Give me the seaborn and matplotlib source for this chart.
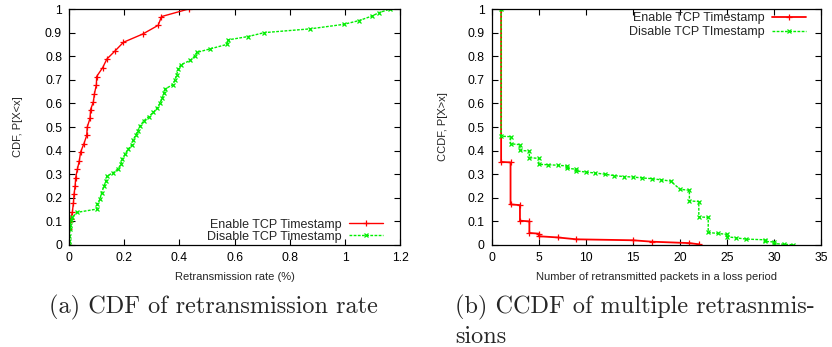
import matplotlib
matplotlib.use("Agg")
import matplotlib.pyplot as plt
import seaborn as sns
import pandas as pd

# ---- data (a) CDF of retransmission rate ----
cdf_en_x = [0, 0, 0.001, 0.006, 0.012, 0.016, 0.018, 0.022, 0.024, 0.03, 0.037, 0.042,
            0.054, 0.064, 0.066, 0.076, 0.078, 0.088, 0.092, 0.099, 0.1, 0.122, 0.137,
            0.168, 0.197, 0.267, 0.323, 0.335, 0.433]
cdf_en_y = [0, 0.068, 0.096, 0.11, 0.14, 0.18, 0.215, 0.25, 0.285, 0.32, 0.356, 0.394,
            0.43, 0.464, 0.5, 0.537, 0.574, 0.606, 0.641, 0.679, 0.714, 0.752, 0.788,
            0.824, 0.859, 0.894, 0.931, 0.968, 1.0]
cdf_dis_x = [0, 0, 0.001, 0.004, 0.005, 0.007, 0.012, 0.028, 0.1, 0.103, 0.112, 0.118,
             0.127, 0.134, 0.137, 0.161, 0.179, 0.187, 0.193, 0.203, 0.213, 0.227, 0.233,
             0.242, 0.249, 0.257, 0.27, 0.288, 0.306, 0.32, 0.33, 0.338, 0.344, 0.348,
             0.375, 0.384, 0.39, 0.396, 0.405, 0.439, 0.455, 0.463, 0.511, 0.572, 0.575,
             0.647, 0.708, 0.874, 0.995, 1.051, 1.097, 1.124, 1.164]
cdf_dis_y = [0, 0.018, 0.04, 0.068, 0.085, 0.105, 0.117, 0.138, 0.152, 0.173, 0.194, 0.222,
             0.25, 0.27, 0.292, 0.307, 0.324, 0.342, 0.363, 0.384, 0.405, 0.423, 0.447,
             0.466, 0.485, 0.504, 0.525, 0.543, 0.563, 0.581, 0.602, 0.623, 0.644, 0.661,
             0.679, 0.7, 0.722, 0.745, 0.764, 0.782, 0.8, 0.816, 0.831, 0.85, 0.869,
             0.883, 0.9, 0.916, 0.935, 0.951, 0.97, 0.985, 1.0]

# ---- data (b) CCDF of multiple retransmissions ----
ccdf_en_x = [1, 1, 2, 2, 3, 3, 4, 4, 5, 5, 7, 9, 15, 17, 21, 22]
ccdf_en_y = [1.0, 0.352, 0.35, 0.172, 0.169, 0.103, 0.1, 0.051, 0.048, 0.037, 0.032,
             0.024, 0.02, 0.014, 0.008, 0.003]
ccdf_dis_x = [1, 1, 2, 2, 3, 3, 4, 4, 5, 5, 6, 7, 8, 8, 9, 9, 10, 11, 12, 13, 14, 15,
              16, 17, 18, 19, 20, 21, 21, 22, 22, 23, 23, 24, 25, 25, 26, 27, 29, 29,
              30, 30, 31, 32]
ccdf_dis_y = [1.0, 0.461, 0.459, 0.429, 0.425, 0.401, 0.398, 0.37, 0.367, 0.342, 0.34,
              0.338, 0.335, 0.325, 0.321, 0.314, 0.309, 0.305, 0.3, 0.294, 0.29, 0.288,
              0.284, 0.281, 0.276, 0.271, 0.236, 0.232, 0.187, 0.184, 0.119, 0.117,
              0.053, 0.049, 0.045, 0.035, 0.03, 0.025, 0.022, 0.015, 0.013, 0.006,
              0.003, 0.001]

labels_a = ["Enable TCP Timestamp", "Disable TCP Timestamp"]
labels_b = ["Enable TCP Timestamp", "Disable TCP TImestamp"]
xticks_a = [0, 0.2, 0.4, 0.6, 0.8, 1, 1.2]
xticks_b = [0, 5, 10, 15, 20, 25, 30, 35]
yticks = [0, 0.1, 0.2, 0.3, 0.4, 0.5, 0.6, 0.7, 0.8, 0.9, 1]

sns.set_style("ticks")
plt.rcParams["font.family"] = ["Liberation Sans", "DejaVu Sans"]

RED = "#ff0000"
GREEN = "#00ee00"

fig = plt.figure(figsize=(8.32, 3.47), dpi=100)
ax1 = fig.add_axes([0.083, 0.294, 0.398, 0.680])
ax2 = fig.add_axes([0.591, 0.294, 0.396, 0.680])


def tick_fmt(v):
    return "%g" % v


def draw(ax, xs1, ys1, xs2, ys2, labels, loc, anchor, xlim, xticks, xlabel, ylabel,
         ylabelpad, labelspacing, red_lw):
    d1 = pd.DataFrame({"x": xs1, "y": ys1})
    d2 = pd.DataFrame({"x": xs2, "y": ys2})
    sns.lineplot(data=d1, x="x", y="y", ax=ax, sort=False, estimator=None,
                 color=RED, lw=red_lw, marker="+", markersize=5, mew=0.9,
                 markeredgecolor=RED, label=labels[0])
    sns.lineplot(data=d2, x="x", y="y", ax=ax, sort=False, estimator=None,
                 color=GREEN, lw=1.0, linestyle=(0, (2, 1)), marker="x",
                 markersize=3.5, mew=0.9, markeredgecolor=GREEN, label=labels[1])
    ax.set_xlim(*xlim)
    ax.set_ylim(0, 1)
    ax.set_xticks(xticks)
    ax.set_xticklabels([tick_fmt(v) for v in xticks])
    ax.set_yticks(yticks)
    ax.set_yticklabels([tick_fmt(v) for v in yticks])
    ax.tick_params(direction="in", length=4, width=0.8, top=True, right=True,
                   labelsize=8.7, pad=5, colors="black")
    for sp in ax.spines.values():
        sp.set_visible(True)
        sp.set_linewidth(0.9)
        sp.set_color("black")
    ax.set_xlabel(xlabel, fontsize=8, labelpad=6)
    ax.set_ylabel(ylabel, fontsize=8, labelpad=ylabelpad)
    leg = ax.legend(loc=loc, bbox_to_anchor=anchor, frameon=False, markerfirst=False,
                    fontsize=9, handlelength=2.7, handletextpad=0.6,
                    labelspacing=labelspacing, borderaxespad=0.0, borderpad=0.2)
    for t in leg.get_texts():
        t.set_ha("right")


draw(ax1, cdf_en_x, cdf_en_y, cdf_dis_x, cdf_dis_y, labels_a, "lower right",
     (0.955, -0.001), (0, 1.2), xticks_a, "Retransmission rate (%)", "CDF, P[X<x]",
     16, 0.0, 1.0)
draw(ax2, ccdf_en_x, ccdf_en_y, ccdf_dis_x, ccdf_dis_y, labels_b, "upper right",
     (0.96, 0.996), (0, 35), xticks_b,
     "Number of retransmitted packets in a loss period", "CCDF, P[X>x]",
     14, 0.15, 1.3)

cap = dict(family=["cmr10", "DejaVu Serif"], fontsize=17.5, va="baseline")
fig.text(0.256, 0.098, "(a) CDF of retransmission rate", ha="center", **cap)
fig.text(0.547, 0.098, "(b) CCDF of multiple retrasnmis-", ha="left", **cap)
fig.text(0.547, 0.012, "sions", ha="left", **cap)

fig.savefig("out.png", dpi=100, facecolor="white")
